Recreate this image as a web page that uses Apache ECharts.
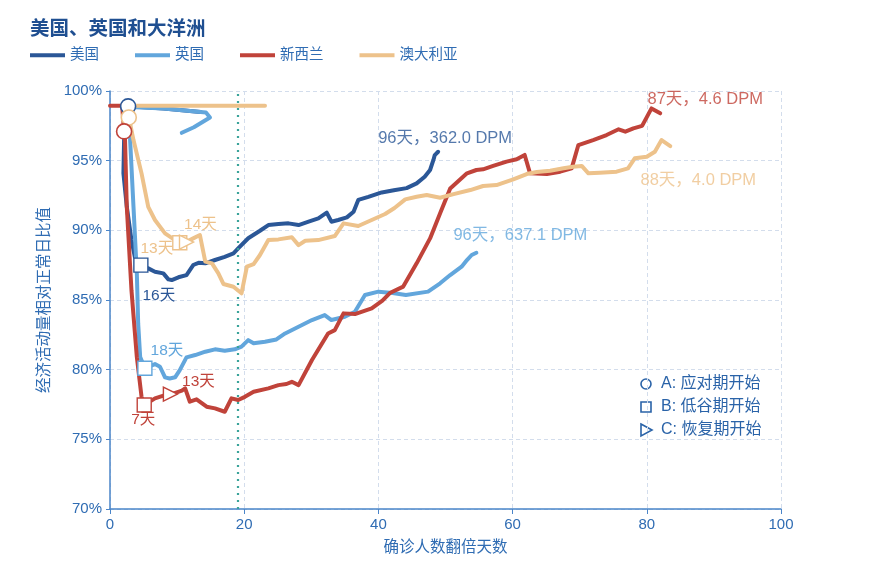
<!DOCTYPE html>
<html>
<head>
<meta charset="utf-8">
<script src="https://cdn.jsdelivr.net/npm/echarts@6/dist/echarts.min.js"></script>
<style>html,body{margin:0;padding:0;background:#fff}#c{width:869px;height:581px}</style>
</head>
<body>
<div id="c"></div>
<script>
// ---- data ----
const titleText = '美国、英国和大洋洲';
const countries = ['美国', '英国', '新西兰', '澳大利亚'];
const xName = '确诊人数翻倍天数';
const yName = '经济活动量相对正常日比值';
const refLineX = [19];

const usData = [[13.5,98.5],[8,98.75],[2.7,98.9],[2.1,96.5],[2.0,94.1],[2.5,91.7],[3.2,89.3],[3.7,88.1],[4.6,87.5],
 [5.7,87.27],[6.7,87.03],[7.95,86.91],[8.7,86.48],[9.2,86.43],[10.2,86.63],[11.4,86.79],[12.4,87.51],[13.2,87.67],[14.2,87.63],
 [15.65,87.87],[17.1,88.1],[18.4,88.35],[19.1,88.71],[20.6,89.43],[22.35,89.97],[23.6,90.38],[25.1,90.45],[26.6,90.5],[28.1,90.38],
 [29.6,90.62],[31.05,90.86],[32.3,91.27],[33.0,90.62],[34.0,90.74],[35.3,90.93],[36.3,91.34],[37.0,92.18],[38.5,92.4],[40.5,92.72],
 [42.3,92.87],[44.2,93.03],[45.7,93.37],[46.9,93.85],[47.7,94.33],[48.2,95.05],[48.4,95.4],[48.9,95.64]];

const ukData = [[10.7,97.0],[12.5,97.4],[14.9,98.1],[14.3,98.45],[8,98.75],[3.0,98.85],[3.0,96.48],[3.5,91.7],[4.0,86.9],[4.2,83.3],[4.5,80.9],[5.2,80.1],
 [6.7,80.4],[7.45,80.21],[8.2,79.45],[8.9,79.37],[9.7,79.45],[10.4,79.97],[11.4,80.88],[12.7,81.05],[14.2,81.29],[15.65,81.46],
 [17.1,81.36],[18.6,81.46],[19.6,81.65],[20.6,82.12],[21.4,81.89],[23.1,82.0],[24.8,82.17],[26.1,82.6],[28.1,83.08],[30.1,83.56],
 [32.0,83.92],[33.0,83.56],[35.0,83.8],[36.5,84.16],[38.0,85.36],[40.0,85.6],[42.1,85.5],[44.1,85.36],[47.4,85.6],[49.2,86.2],
 [50.7,86.79],[52.4,87.39],[53.2,87.87],[53.9,88.23],[54.6,88.39]];

const nzData = [[0,98.95],[1.8,98.95],[2.1,97.1],[2.24,96.48],[2.5,91.7],[3.2,85.7],[4.0,80.9],[4.7,78.05],[5.1,77.46],
 [6.7,77.94],[8.2,78.18],[9.2,78.25],[10.7,78.49],[11.2,78.66],[11.9,77.7],[12.9,77.87],[14.4,77.34],[15.65,77.22],[17.1,76.98],
 [18.1,77.94],[19.1,77.82],[20.1,78.05],[21.4,78.41],[23.6,78.66],[25.1,78.89],[26.3,78.97],[27.1,79.13],[28.1,78.89],[30.1,80.69],
 [32.5,82.6],[33.5,82.84],[34.8,84.04],[36.5,83.99],[39.0,84.4],[40.6,84.95],[41.7,85.5],[43.7,85.96],[45.7,87.63],[47.7,89.42],
 [49.2,91.22],[50.7,93.01],[53.2,94.09],[54.6,94.33],[55.6,94.38],[57.1,94.62],[59.1,94.93],[60.6,95.1],[61.8,95.41],[62.6,94.09],
 [65.1,94.04],[67.1,94.21],[68.8,94.45],[69.8,96.12],[72.0,96.48],[74.0,96.84],[75.8,97.25],[76.8,97.08],[78.0,97.32],[79.3,97.5],
 [80.7,98.75],[82.0,98.4]];

const auData = [[23.1,98.95],[3.0,98.95],[2.8,98.1],[3.5,96.48],[4.7,94.09],[5.7,91.69],[6.7,90.74],[8.2,89.78],[9.7,89.3],[10.4,89.11],
 [11.4,89.18],[12.4,89.42],[13.4,89.66],[14.2,87.75],[15.2,87.63],[16.15,86.91],[16.9,86.15],[18.4,85.95],[19.6,85.48],[20.4,87.39],
 [21.4,87.58],[22.35,88.23],[23.6,89.3],[25.1,89.35],[27.1,89.5],[28.1,88.94],[29.1,89.25],[31.05,89.3],[33.5,89.59],[34.8,90.5],
 [37.0,90.31],[39.0,90.74],[41.0,91.17],[42.4,91.6],[44.0,92.22],[45.7,92.41],[47.2,92.53],[49.2,92.34],[51.2,92.6],[53.7,92.89],
 [55.6,93.18],[57.6,93.25],[60.1,93.66],[62.1,94.04],[63.6,94.19],[65.6,94.28],[67.6,94.45],[69.0,94.57],[70.3,94.62],[71.3,94.09],
 [73.0,94.14],[75.5,94.21],[77.2,94.45],[78.2,95.17],[80.0,95.28],[81.2,95.64],[82.2,96.48],[83.5,96.05]];

// A: start of response phase (US, Australia, NZ)
const startPoints = [[2.7,98.9],[2.8,98.1],[2.1,97.1]];
// B: trough start (US, UK, NZ, Australia)
const troughPoints = [[4.6,87.5],[5.2,80.1],[5.1,77.46],[10.4,89.11]];
const troughLabels = ['16天','18天','7天','13天'];
// C: recovery start (NZ, Australia)
const recoveryPoints = [[9.0,78.25],[11.4,89.16]];
const recoveryLabels = ['13天','14天'];
const endLabels = ['96天，362.0 DPM','96天，637.1 DPM','87天，4.6 DPM','88天，4.0 DPM'];
const keyLabels = ['A: 应对期开始','B: 低谷期开始','C: 恢复期开始'];
const yTicks = [70,75,80,85,90,95,100];
const xTicks = [0,20,40,60,80,100];

// ---- styles ----
const colors = ['#2b5797','#62a6dc','#c0433a','#edc28b'];
const axisBlue = '#2f6cb3';
const FONT = "'Liberation Sans','Noto Sans CJK SC',sans-serif";
const seriesData = [usData, ukData, nzData, auData];
const startColors = [colors[0], colors[3], colors[2]];
const troughColors = [colors[0], colors[1], colors[2], colors[3]];
const troughOffsets = [[18,31],[22,-18],[-1,15],[-23,6]];
const recColors = [colors[2], colors[3]];
const recOffsets = [[28,-12],[14,-17]];
const endOffsets = [[7,-13],[44,-17],[45,-14],[28,34]];

const chart = echarts.init(document.getElementById('c'), null, {renderer:'canvas'});

const lineSeries = countries.map((n,i)=>({
  name:n, type:'line', data:seriesData[i], showSymbol:false, symbol:'none',
  lineStyle:{width:4, color:colors[i], cap:'round', join:'round'}, itemStyle:{color:colors[i]},
  z: 2+i, animation:false,
  markLine: i===0 ? {silent:true, symbol:'none', label:{show:false},
    lineStyle:{type:[2,5], color:'#3aa39a', width:2.2},
    data: refLineX.map(v=>({xAxis:v}))} : undefined
}));

const startSeries = {
  type:'scatter', z:10, animation:false, symbol:'circle', symbolSize:15,
  data:startPoints.map((p,i)=>({value:p, itemStyle:{color:'#fff', opacity:1, borderColor:startColors[i], borderWidth:1.6}}))
};
const troughSeries = {
  type:'scatter', z:10, animation:false, symbol:'rect', symbolSize:14,
  data:troughPoints.map((p,i)=>({value:p, itemStyle:{color:'#fff', opacity:1, borderColor:troughColors[i], borderWidth:1.4},
    label:{show:true, formatter:troughLabels[i], position:'inside', offset:troughOffsets[i], color:troughColors[i], fontSize:15.5, fontFamily:FONT}}))
};
const recSeries = {
  type:'scatter', z:10, animation:false, symbol:'triangle', symbolRotate:-90, symbolSize:14,
  data:recoveryPoints.map((p,i)=>({value:p, itemStyle:{color:'#fff', opacity:1, borderColor:recColors[i], borderWidth:1.4},
    label:{show:true, formatter:recoveryLabels[i], position:'inside', offset:recOffsets[i], color:recColors[i], fontSize:15.5, fontFamily:FONT}}))
};
const endSeries = {
  type:'scatter', z:10, animation:false, symbolSize:0, silent:true,
  data:seriesData.map((d,i)=>({value:d[d.length-1],
    label:{show:true, formatter:endLabels[i], position:'inside', offset:endOffsets[i], color:colors[i], fontSize:16.5, fontFamily:FONT}}))
};

const keyColor = '#2a63a8';
const kx = 646, ky = 384, kgap = 23;
const graphics = [
  {type:'circle', shape:{cx:kx, cy:ky, r:5}, style:{fill:'none', stroke:keyColor, lineWidth:1.6}},
  {type:'rect', shape:{x:kx-5, y:ky+kgap-5, width:10, height:10}, style:{fill:'none', stroke:keyColor, lineWidth:1.6}},
  {type:'polygon', shape:{points:[[kx-5,ky+2*kgap-6],[kx+6,ky+2*kgap],[kx-5,ky+2*kgap+6]]}, style:{fill:'none', stroke:keyColor, lineWidth:1.6}}
].concat(keyLabels.map((t,i)=>({type:'text', x:kx+15, y:ky+i*kgap, style:{text:t, fill:keyColor, font:'16px '+FONT, textVerticalAlign:'middle', verticalAlign:'middle'}})));

chart.setOption({
  backgroundColor:'#fff',
  textStyle:{fontFamily:FONT},
  title:{text:titleText, left:25, top:15, textStyle:{fontSize:19.5, fontWeight:'bold', color:'#1f4f91', fontFamily:FONT}},
  legend:{data:countries, left:25, top:43, itemWidth:35, itemHeight:4, itemGap:36, icon:'rect',
    textStyle:{fontSize:14.5, color:axisBlue, fontFamily:FONT}},
  grid:{left:110, right:88, top:91, bottom:72, containLabel:false},
  xAxis:{type:'value', min:xTicks[0], max:xTicks[xTicks.length-1], interval:xTicks[1]-xTicks[0],
    name:xName, nameLocation:'middle', nameGap:31, nameTextStyle:{fontSize:15.5, color:axisBlue},
    axisLine:{show:true, onZero:false, lineStyle:{color:'#4a85c9', width:1.5}},
    axisTick:{show:true, length:5, lineStyle:{color:'#4a85c9'}},
    axisLabel:{fontSize:15, color:axisBlue, margin:8},
    splitLine:{show:true, lineStyle:{type:[4,3], color:'#d3ddec', width:1}}},
  yAxis:{type:'value', min:yTicks[0], max:yTicks[yTicks.length-1], interval:yTicks[1]-yTicks[0],
    name:yName, nameLocation:'middle', nameGap:57, nameRotate:90, nameTextStyle:{fontSize:15.5, color:axisBlue},
    axisLine:{show:true, lineStyle:{color:'#4a85c9', width:1.5}},
    axisTick:{show:true, length:4, lineStyle:{color:'#4a85c9'}},
    axisLabel:{fontSize:15, color:axisBlue, margin:8, formatter:'{value}%'},
    splitLine:{show:true, lineStyle:{type:[4,3], color:'#d3ddec', width:1}}},
  series: lineSeries.concat([startSeries, troughSeries, recSeries, endSeries]),
  graphic: graphics
});
</script>
</body>
</html>
